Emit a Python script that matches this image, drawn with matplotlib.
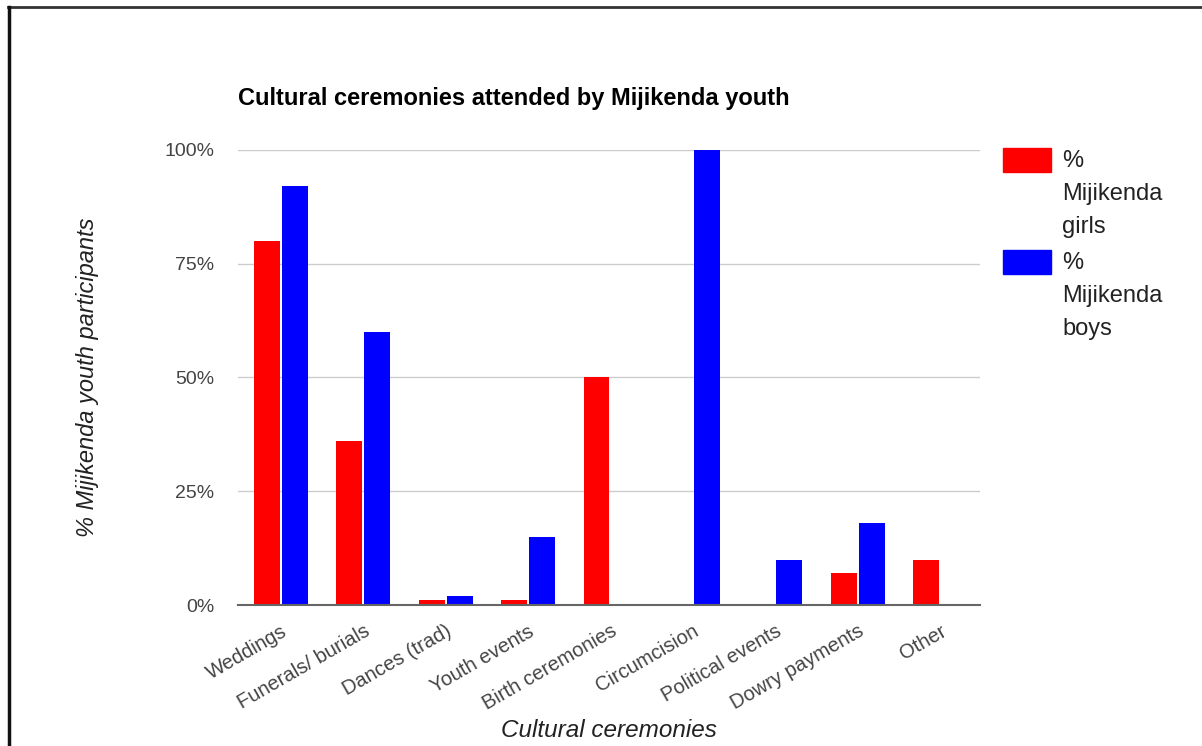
import matplotlib.pyplot as plt
import numpy as np
from matplotlib.lines import Line2D
from matplotlib.patches import Rectangle

plt.rcParams['font.family'] = ['Liberation Sans', 'DejaVu Sans']

categories = ["Weddings", "Funerals/ burials", "Dances (trad)", "Youth events",
              "Birth ceremonies", "Circumcision", "Political events",
              "Dowry payments", "Other"]
girls = [80, 36, 1, 1, 50, 0, 0, 7, 10]
boys = [92, 60, 2, 15, 0, 100, 10, 18, 0]
series_names = ["%\nMijikenda\ngirls", "%\nMijikenda\nboys"]
series_colors = ["#ff0000", "#0000ff"]

fig = plt.figure(figsize=(12.02, 7.46), dpi=100)
ax = fig.add_axes([0.198, 0.189, 0.617, 0.61])

x = np.arange(len(categories))
w = 0.315
ax.bar(x - w/2 - 0.012, girls, w, color=series_colors[0], zorder=3)
ax.bar(x + w/2 + 0.012, boys, w, color=series_colors[1], zorder=3)

ax.set_xlim(-0.52, len(categories) - 0.52)
ax.set_ylim(0, 100)
ax.set_yticks([0, 25, 50, 75, 100])
ax.set_yticklabels(["0%", "25%", "50%", "75%", "100%"])
ax.yaxis.grid(True, color="#cccccc", linewidth=1, zorder=0)
ax.set_xticks(x)
ax.set_xticklabels(categories, rotation=30, ha="right", rotation_mode="anchor")
ax.tick_params(axis="both", length=0, colors="#444444")
ax.tick_params(axis="y", pad=17, labelsize=14)
ax.tick_params(axis="x", pad=12, labelsize=14.5)
for s in ["top", "right", "left"]:
    ax.spines[s].set_visible(False)
ax.spines["bottom"].set_color("#666666")
ax.spines["bottom"].set_linewidth(1.5)
ax.spines["bottom"].set_zorder(4)

ax.set_xlabel("Cultural ceremonies", fontsize=17.5, style="italic", color="#222222", labelpad=4)
ax.set_ylabel("% Mijikenda youth participants", fontsize=17, style="italic", color="#222222", labelpad=47)
fig.text(0.198, 0.868, "Cultural ceremonies attended by Mijikenda youth",
         fontsize=17, fontweight="bold", color="#000000", ha="left", va="center")

# legend drawn by hand so swatches sit at the top of wrapped labels
for i, (name, col) in enumerate(zip(series_names, series_colors)):
    top = 148 + i * 102
    fig.add_artist(Rectangle((1003 / 1202, 1 - (top + 24) / 746), 48 / 1202, 24 / 746,
                             transform=fig.transFigure, color=col))
    fig.text(1062 / 1202, 1 - (top + 2) / 746, name, fontsize=17, color="#222222",
             ha="left", va="top", linespacing=1.65)

# outer frame
fig.add_artist(Line2D([8 / 1202, 1], [1 - 7 / 746] * 2, transform=fig.transFigure,
                      color="#333333", linewidth=2))
fig.add_artist(Line2D([9 / 1202] * 2, [0, 1 - 7 / 746], transform=fig.transFigure,
                      color="#111111", linewidth=2.5))

fig.savefig("out.png", dpi=100)
